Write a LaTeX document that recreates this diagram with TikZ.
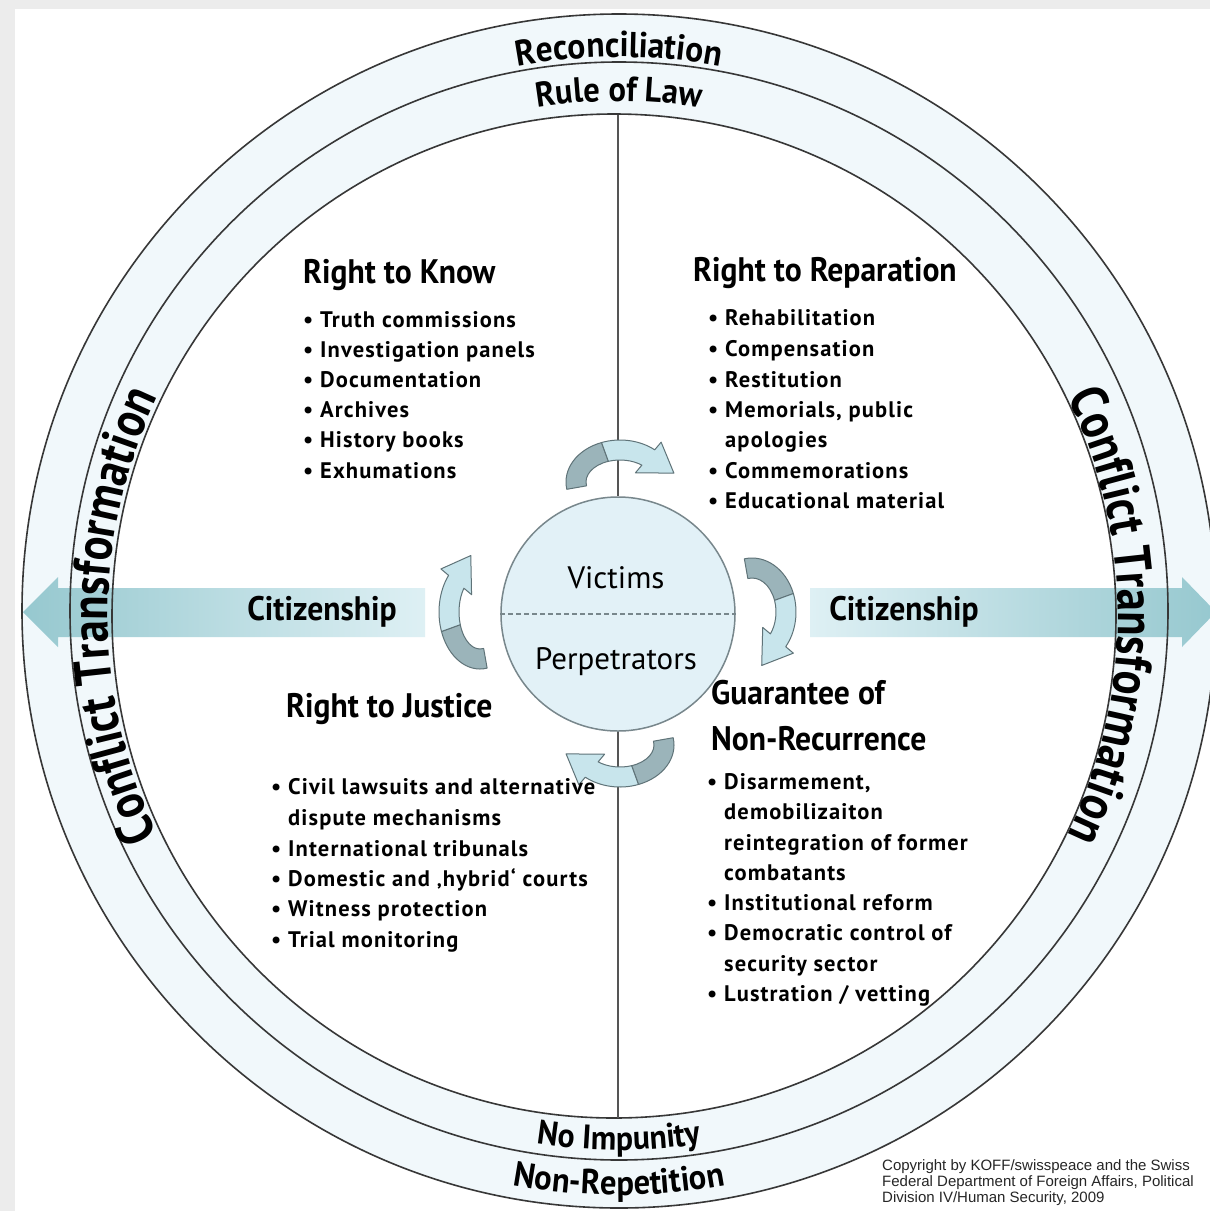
\documentclass[tikz,border=0pt]{standalone}
\usepackage{fontspec}
\setmainfont{PT Sans}
\newfontfamily\condf[FakeStretch=0.93]{PT Sans}
\newfontfamily\condt[FakeStretch=0.86]{PT Sans}
\newfontfamily\itemf[LetterSpace=5]{PT Sans}
\newfontfamily\arialf{Liberation Sans}
\usetikzlibrary{decorations.text}
\definecolor{framegrey}{RGB}{236,236,236}
\definecolor{ringfill}{RGB}{241,248,251}
\definecolor{ringline}{RGB}{55,55,55}
\definecolor{citdark}{RGB}{150,200,207}
\definecolor{citlight}{RGB}{222,240,244}
\definecolor{centerfill}{RGB}{226,241,247}
\definecolor{centerline}{RGB}{120,135,140}
\definecolor{cadark}{RGB}{155,180,186}
\definecolor{calight}{RGB}{200,229,236}
\definecolor{caline}{RGB}{95,115,120}
\newcommand{\bul}{\makebox[17pt][l]{•}}
\newcommand{\hang}{\hspace*{17pt}}
\newcommand{\cycarrow}[4]{%
 \pgfmathsetmacro{\aA}{#2}%
 \pgfmathsetmacro{\aB}{#2-80}%
 \pgfmathsetmacro{\aC}{#2-140}%
 \pgfmathsetmacro{\rxo}{#3+10}\pgfmathsetmacro{\ryo}{#4+10}%
 \pgfmathsetmacro{\rxi}{#3-10}\pgfmathsetmacro{\ryi}{#4-10}%
 \pgfmathsetmacro{\rxh}{#3+20}\pgfmathsetmacro{\ryh}{#4+20}%
 \pgfmathsetmacro{\rxj}{#3-20}\pgfmathsetmacro{\ryj}{#4-20}%
 \pgfmathsetmacro{\tx}{#3*sin(\aC)}\pgfmathsetmacro{\ty}{-#4*cos(\aC)}%
 \pgfmathsetmacro{\tl}{sqrt(\tx*\tx+\ty*\ty)}%
 \pgfmathsetmacro{\px}{#3*cos(\aC)+30*\tx/\tl}\pgfmathsetmacro{\py}{#4*sin(\aC)+30*\ty/\tl}%
 \filldraw[cyc, fill=cadark]
   ([shift={(\aA:\rxo pt and \ryo pt)}]#1) arc[start angle=\aA, end angle=\aB, x radius=\rxo pt, y radius=\ryo pt]
   -- ([shift={(\aB:\rxi pt and \ryi pt)}]#1) arc[start angle=\aB, end angle=\aA, x radius=\rxi pt, y radius=\ryi pt] -- cycle;
 \filldraw[cyc, fill=calight]
   ([shift={(\aB:\rxo pt and \ryo pt)}]#1) arc[start angle=\aB, end angle=\aC, x radius=\rxo pt, y radius=\ryo pt]
   -- ([shift={(\aC:\rxh pt and \ryh pt)}]#1) -- ([shift={(\px pt,\py pt)}]#1) -- ([shift={(\aC:\rxj pt and \ryj pt)}]#1)
   -- ([shift={(\aC:\rxi pt and \ryi pt)}]#1) arc[start angle=\aC, end angle=\aB, x radius=\rxi pt, y radius=\ryi pt] -- cycle;
}
\tikzset{
 cyc/.style={draw=caline, line width=1pt, line join=round},
 ringdraw/.style={draw=ringline, line width=1.6pt},
 vline/.style={draw=ringline!85, line width=1.3pt},
 hd/.style={font=\condf\bfseries\fontsize{34}{40}\selectfont, anchor=base west, inner sep=0pt},
 itm/.style={font=\itemf\bfseries\fontsize{22.5}{26}\selectfont, anchor=base west, inner sep=0pt},
 cit/.style={font=\condf\bfseries\fontsize{34}{40}\selectfont, inner sep=0pt},
 vp/.style={font=\fontsize{31}{36}\selectfont, inner sep=0pt},
 cpy/.style={font=\arialf\fontsize{15}{16}\selectfont, anchor=base west, inner sep=0pt, text=black!85},
}
\begin{document}
\begin{tikzpicture}[x=1pt,y=1pt]
\useasboundingbox (0,0) rectangle (1210,-1211);
\clip (0,0) rectangle (1210,-1211);
\fill[framegrey] (0,0) rectangle (1210,-1211);
\fill[white] (15,-9) rectangle (1210,-1211);
\coordinate (OC) at (619,-611);
\coordinate (IC) at (614,-616);
% ring fills
\fill[ringfill] (OC) circle[radius=597pt];
\fill[white] (IC) circle[radius=502pt];
% citizenship arrows
\shade[left color=citdark, right color=citlight] (23,-612) -- (58,-577) -- (58,-588) -- (425,-588) -- (425,-637) -- (58,-637) -- (58,-647) -- cycle;
\shade[left color=citlight, right color=citdark] (810,-588) -- (1182,-588) -- (1182,-577) -- (1216,-612) -- (1182,-647) -- (1182,-637) -- (810,-637) -- cycle;
% circle lines
\draw[ringdraw] (OC) circle[radius=597pt];
\draw[ringdraw] (OC) circle[radius=549pt];
\draw[ringdraw] (IC) circle[radius=502pt];
% centre
\node[circle, draw=centerline, fill=centerfill, line width=1.5pt, minimum size=234pt, inner sep=0pt] (V) at (618,-614) {};
\coordinate (vt) at (618,-115);
\coordinate (vb) at (618,-1118);
\draw[vline] (vt) -- (V.north);
\draw[vline] (V.south) -- (vb);
\draw[centerline, line width=1.2pt, dash pattern=on 5pt off 3pt] (V.west) -- (V.east);
\node[vp] (vic) at (616,-578) {Victims};
\node[vp] (per) at (616,-662) {Perpetrators};
% cycle arrows
\coordinate (ct) at (620,-482);
\coordinate (cr) at (752,-612);
\coordinate (cb) at (620,-745);
\coordinate (cl) at (480,-612);
\cycarrow{ct}{190}{44}{32}
\cycarrow{cr}{100}{34}{44}
\cycarrow{cb}{10}{44}{32}
\cycarrow{cl}{-80}{31}{47}
% curved ring texts
\path[decorate, decoration={text along path, text align=center, text={|\condf\bfseries\fontsize{36}{36}\selectfont|Reconciliation}}]
  ([shift={(120:554pt)}]OC) arc[start angle=120, end angle=60, radius=554pt];
\path[decorate, decoration={text along path, text align=center, text={|\condf\bfseries\fontsize{35}{35}\selectfont|Rule of Law}}]
  ([shift={(120:510pt)}]OC) arc[start angle=120, end angle=60, radius=510pt];
\path[decorate, decoration={text along path, text align=center, text={|\condf\bfseries\fontsize{34}{34}\selectfont|No Impunity}}]
  ([shift={(240:539pt)}]OC) arc[start angle=240, end angle=300, radius=539pt];
\path[decorate, decoration={text along path, text align=center, text={|\condf\bfseries\fontsize{35}{35}\selectfont|Non-Repetition}}]
  ([shift={(240:584pt)}]OC) arc[start angle=240, end angle=300, radius=584pt];
\path[decorate, decoration={text along path, text align=center, text={|\condt\bfseries\fontsize{52}{52}\selectfont|Conflict Transformation}}]
  ([shift={(235:506pt)}]IC) arc[start angle=235, end angle=125, radius=506pt];
\path[decorate, decoration={text along path, text align=center, text={|\condt\bfseries\fontsize{52}{52}\selectfont|Conflict Transformation}}]
  ([shift={(55:504pt)}]IC) arc[start angle=55, end angle=-55, radius=504pt];
% citizenship labels
\node[cit] (citl) at (322,-612) {Citizenship};
\node[cit] (citr) at (904,-612) {Citizenship};
% Right to Know
\node[hd] (rk) at (303,-283) {Right to Know};
\node[itm] (rk1) at (303,-327) {\bul Truth commissions};
\node[itm] (rk2) at (303,-357.2) {\bul Investigation panels};
\node[itm] (rk3) at (303,-387.4) {\bul Documentation};
\node[itm] (rk4) at (303,-417.6) {\bul Archives};
\node[itm] (rk5) at (303,-447.8) {\bul History books};
\node[itm] (rk6) at (303,-478) {\bul Exhumations};
% Right to Reparation
\node[hd] (rr) at (693,-281) {Right to Reparation};
\node[itm] (rr1) at (708,-325) {\bul Rehabilitation};
\node[itm] (rr2) at (708,-356) {\bul Compensation};
\node[itm] (rr3) at (708,-387) {\bul Restitution};
\node[itm] (rr4) at (708,-417) {\bul Memorials, public};
\node[itm] (rr5) at (708,-447) {\hang apologies};
\node[itm] (rr6) at (708,-478) {\bul Commemorations};
\node[itm] (rr7) at (708,-508) {\bul Educational material};
% Right to Justice
\node[hd] (rj) at (286,-717) {Right to Justice};
\node[itm] (rj1) at (271,-794) {\bul Civil lawsuits and alternative};
\node[itm] (rj2) at (271,-825) {\hang dispute mechanisms};
\node[itm] (rj3) at (271,-856) {\bul International tribunals};
\node[itm] (rj4) at (271,-886) {\bul Domestic and ‚hybrid‘ courts};
\node[itm] (rj5) at (271,-916) {\bul Witness protection};
\node[itm] (rj6) at (271,-947) {\bul Trial monitoring};
% Guarantee of Non-Recurrence
\node[hd] (gn) at (711,-704) {Guarantee of};
\node[hd] (gn0) at (711,-750) {Non-Recurrence};
\node[itm] (gn1) at (707,-789) {\bul Disarmement,};
\node[itm] (gn2) at (707,-819) {\hang demobilizaiton};
\node[itm] (gn3) at (707,-850) {\hang reintegration of former};
\node[itm] (gn4) at (707,-880) {\hang combatants};
\node[itm] (gn5) at (707,-910) {\bul Institutional reform};
\node[itm] (gn6) at (707,-940) {\bul Democratic control of};
\node[itm] (gn7) at (707,-971) {\hang security sector};
\node[itm] (gn8) at (707,-1001) {\bul Lustration / vetting};
% copyright
\node[cpy] (cp1) at (882,-1170) {Copyright by KOFF/swisspeace and the Swiss};
\node[cpy] (cp2) at (882,-1186) {Federal Department of Foreign Affairs, Political};
\node[cpy] (cp3) at (882,-1202) {Division IV/Human Security, 2009};
\end{tikzpicture}
\end{document}
